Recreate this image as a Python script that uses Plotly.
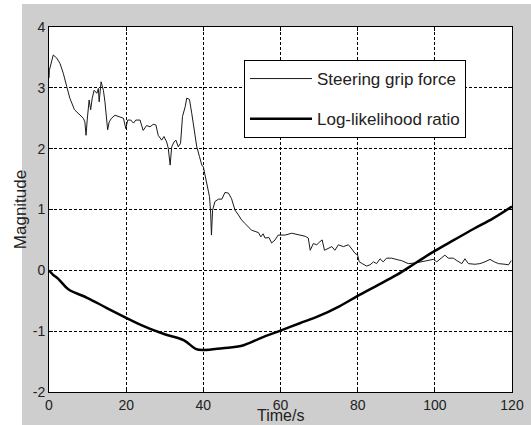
import plotly.graph_objects as go

# ---- data ----
time_grip = [0.0, 0.1, 1.1, 2.0, 2.85, 3.7, 4.6, 5.4, 6.6, 7.6, 8.9, 9.3, 9.6, 9.9, 10.4, 10.8,
             11.2, 11.7, 12.4, 12.8, 13.0, 13.5, 14.1, 14.5, 15.0, 15.2, 15.6, 16.2, 17.1, 18.0,
             19.3, 19.9, 20.4, 21.2, 21.9, 22.5, 23.6, 24.4, 25.3, 26.2, 27.0, 27.7, 28.3, 29.2,
             29.8, 30.5, 30.9, 31.4, 31.8, 32.4, 32.9, 33.5, 34.1, 34.6, 35.3, 35.7, 36.4, 37.0,
             37.6, 38.3, 39.0, 39.6, 40.0, 40.4, 40.9, 41.3, 41.6, 41.9, 42.1, 42.4, 43.0, 43.9,
             44.8, 45.6, 46.5, 47.3, 48.2, 49.1, 49.9, 50.8, 51.7, 52.5, 53.4, 54.3, 54.9, 55.5,
             56.0, 57.0, 57.7, 58.6, 59.4, 60.3, 61.2, 62.9, 64.6, 66.4, 67.2, 67.7, 68.5, 69.4,
             70.2, 70.8, 71.4, 72.4, 73.3, 74.1, 75.0, 76.3, 77.6, 78.5, 79.3, 80.0, 80.4, 81.2,
             82.3, 83.2, 84.1, 84.9, 85.8, 86.6, 87.5, 88.8, 89.7, 90.6, 91.4, 93.1, 94.9, 96.6,
             98.0, 99.6, 100.5, 101.8, 102.6, 103.5, 104.8, 105.7, 107.0, 107.8, 108.7, 110.4,
             111.7, 113.0, 114.3, 115.4, 116.5, 118.2, 119.1, 119.8]
grip_force = [3.16, 3.29, 3.54, 3.49, 3.40, 3.24, 3.02, 2.83, 2.64, 2.58, 2.50, 2.44, 2.22, 2.47, 2.80, 2.64,
              2.83, 2.96, 2.91, 2.99, 2.77, 3.10, 2.96, 2.77, 2.47, 2.31, 2.44, 2.50, 2.55, 2.53,
              2.50, 2.33, 2.47, 2.47, 2.42, 2.47, 2.47, 2.30, 2.38, 2.36, 2.40, 2.39, 2.22, 2.14,
              2.20, 2.11, 2.01, 1.73, 2.03, 2.11, 2.14, 2.03, 2.09, 2.53, 2.69, 2.83, 2.81, 2.58,
              2.31, 2.03, 1.87, 1.73, 1.70, 1.57, 1.43, 1.27, 1.21, 0.94, 0.58, 0.99, 1.13, 1.17,
              1.17, 1.28, 1.27, 1.18, 0.99, 0.91, 0.83, 0.77, 0.72, 0.66, 0.64, 0.62, 0.55, 0.60,
              0.53, 0.54, 0.45, 0.50, 0.58, 0.58, 0.58, 0.61, 0.58, 0.56, 0.53, 0.33, 0.44, 0.42,
              0.47, 0.50, 0.33, 0.36, 0.39, 0.33, 0.42, 0.39, 0.42, 0.35, 0.28, 0.25, 0.14, 0.11,
              0.07, 0.09, 0.14, 0.11, 0.19, 0.14, 0.20, 0.20, 0.18, 0.17, 0.16, 0.11, 0.12, 0.14,
              0.15, 0.18, 0.14, 0.20, 0.25, 0.20, 0.20, 0.16, 0.11, 0.19, 0.11, 0.10,
              0.11, 0.14, 0.18, 0.14, 0.11, 0.10, 0.09, 0.16]

time_llr = [0, 1, 2.4, 5, 10, 15, 20, 25, 30, 35, 38, 40, 45, 50, 55, 60, 65, 70, 75, 80,
            85, 90, 95, 100, 105, 110, 115, 120]
log_likelihood = [0, -0.07, -0.14, -0.31, -0.455, -0.62, -0.78, -0.93, -1.05, -1.15, -1.29, -1.31,
                  -1.28, -1.24, -1.11, -0.99, -0.87, -0.75, -0.60, -0.42, -0.25, -0.08, 0.12,
                  0.32, 0.50, 0.68, 0.85, 1.05]

x_ticks = [0, 20, 40, 60, 80, 100, 120]
x_tick_labels = ["0", "20", "40", "60", "80", "100", "120"]
y_ticks = [-2, -1, 0, 1, 2, 3, 4]
y_tick_labels = ["-2", "-1", "0", "1", "2", "3", "4"]
x_title = "Time/s"
y_title = "Magnitude"

FONT = "Liberation Sans, Arial, sans-serif"
GRAY = "#cecece"

fig = go.Figure()
fig.add_trace(go.Scatter(x=time_grip, y=grip_force, mode="lines",
                         name="Steering grip force", legendgroup="a",
                         line=dict(color="#1a1a1a", width=1)))
fig.add_trace(go.Scatter(x=time_llr, y=log_likelihood, mode="lines",
                         name="Log-likelihood ratio", legendgroup="b", line_shape="spline",
                         line=dict(color="black", width=2.5)))

axis_common = dict(
    showline=True, linecolor="black", linewidth=1, mirror="ticks",
    ticks="inside", ticklen=4, tickcolor="black",
    showgrid=True, gridcolor="black", gridwidth=1, griddash="3px,2px",
    zeroline=False,
    tickfont=dict(family=FONT, size=14, color="#222"),
)

fig.update_xaxes(range=[0, 120], tickvals=x_ticks, ticktext=x_tick_labels, **axis_common)
fig.update_yaxes(range=[-2, 4], tickvals=y_ticks, ticktext=y_tick_labels, **axis_common,
                 title=dict(text=y_title, font=dict(family=FONT, size=17, color="#222"),
                            standoff=1))

W, H = 531, 425
L, R, T, B = 49, 19, 27, 33
pw, ph = W - L - R, H - T - B

def px_x(p):
    return (p - L) / pw

def px_y(p):
    return (H - B - p) / ph

fig.update_layout(
    width=W, height=H,
    margin=dict(l=L, r=R, t=T, b=B, autoexpand=False),
    paper_bgcolor=GRAY, plot_bgcolor="white",
    font=dict(family=FONT, color="#222"),
    showlegend=True,
    legend=dict(x=px_x(244), y=px_y(60), xanchor="left", yanchor="top",
                bgcolor="white", bordercolor="black", borderwidth=1,
                font=dict(family=FONT, size=17, color="#222"),
                itemwidth=62, tracegroupgap=15, traceorder="grouped"),
    annotations=[
        dict(text=x_title, xref="paper", yref="paper", x=0.5, y=px_y(425),
             xanchor="center", yanchor="bottom", showarrow=False, borderpad=0,
             font=dict(family=FONT, size=16, color="#222")),
    ],
    shapes=[
        dict(type="rect", xref="paper", yref="paper", layer="below",
             x0=px_x(0), x1=px_x(22), y0=px_y(H), y1=px_y(0),
             fillcolor="white", line=dict(width=0)),
        dict(type="rect", xref="paper", yref="paper", layer="below",
             x0=px_x(0), x1=px_x(W), y0=px_y(4), y1=px_y(0),
             fillcolor="white", line=dict(width=0)),
    ],
)

fig.write_html("out.html", config={"displayModeBar": False},
               post_script="document.body.style.margin='0';document.body.style.overflow='hidden';")
